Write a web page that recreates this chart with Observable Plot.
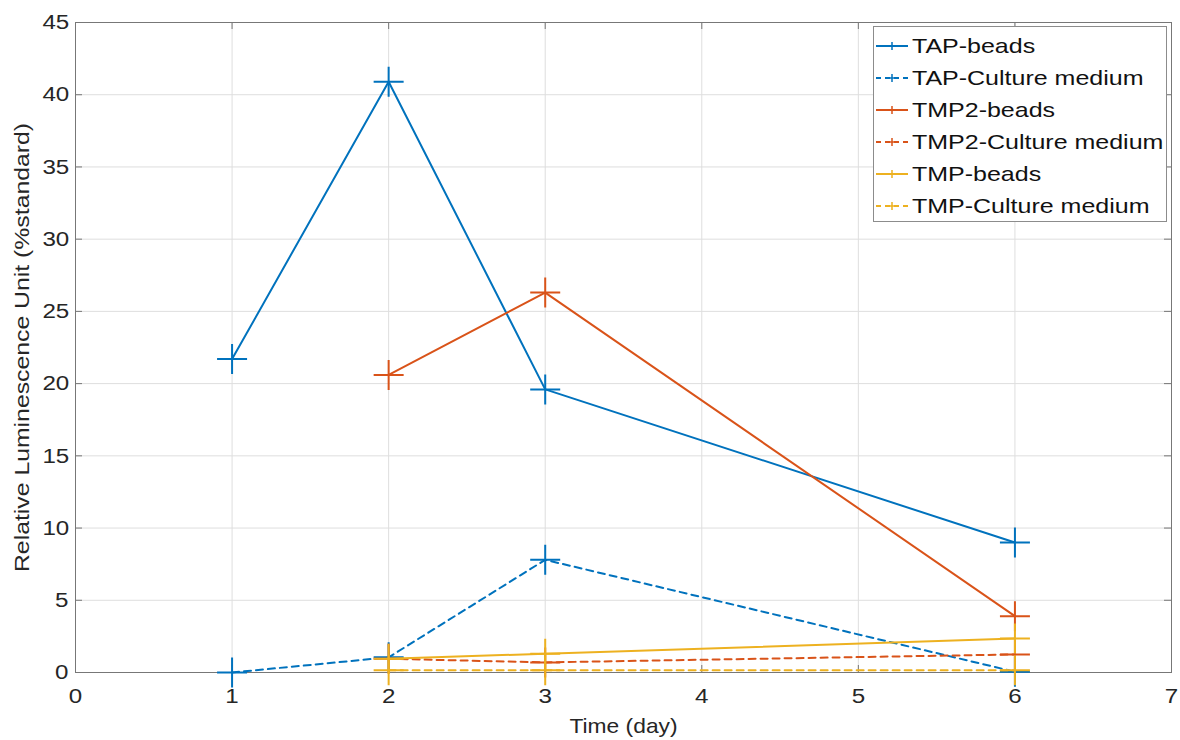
<!DOCTYPE html>
<html><head><meta charset="utf-8">
<script src="https://cdn.jsdelivr.net/npm/d3@7"></script>
<script src="https://cdn.jsdelivr.net/npm/@observablehq/plot@0.6"></script>
<style>
body{margin:0;background:#fff;font-family:"Liberation Sans",Arial,sans-serif;}
#wrap{position:relative;width:1180px;height:740px;}
#legend{position:absolute;left:873px;top:26px;width:294px;height:196px;border:1px solid #8c8c8c;background:#fff;box-sizing:border-box;padding-top:3px;}
.row{height:32px;display:flex;align-items:center;}
.row svg{margin-left:2px;flex:none}
.row span{font-size:21px;color:#111;display:inline-block;transform:scaleX(1.19);transform-origin:left center;margin-left:4px;white-space:nowrap}
</style></head><body><div id="wrap"></div>
<script>
// ---- data ----
const daysTAP = [1, 2, 3, 6];
const daysTMP = [2, 3, 6];
const tapBeads   = [21.7, 40.9, 19.6, 9.0];
const tapMedium  = [0.0, 1.05, 7.8, 0.05];
const tmp2Beads  = [20.6, 26.3, 3.9];
const tmp2Medium = [0.95, 0.7, 1.25];
const tmpBeads   = [0.95, 1.3, 2.35];
const tmpMedium  = [0.15, 0.15, 0.15];
const seriesNames = ["TAP-beads", "TAP-Culture medium", "TMP2-beads", "TMP2-Culture medium", "TMP-beads", "TMP-Culture medium"];
const seriesX = [daysTAP, daysTAP, daysTMP, daysTMP, daysTMP, daysTMP];
const seriesY = [tapBeads, tapMedium, tmp2Beads, tmp2Medium, tmpBeads, tmpMedium];
const xTicks = [0, 1, 2, 3, 4, 5, 6, 7];
const yTicks = [0, 5, 10, 15, 20, 25, 30, 35, 40, 45];
const xLabel = "Time (day)";
const yLabel = "Relative Luminescence Unit (%standard)";

// ---- styles ----
const seriesColors = ["#0072BD", "#0072BD", "#D95319", "#D95319", "#EDB120", "#EDB120"];
const seriesDashed = [false, true, false, true, false, true];

const rows = [];
seriesNames.forEach((name, i) => {
  seriesX[i].forEach((x, j) => rows.push({series: name, idx: i, x, y: seriesY[i][j]}));
});

const plusSym = {
  draw(ctx, size) {
    const r = Math.sqrt(size / Math.PI);
    ctx.moveTo(-r, 0); ctx.lineTo(r, 0);
    ctx.moveTo(0, -r); ctx.lineTo(0, r);
  }
};

const W = 1180, H = 740, mL = 75, mR = 9, mT = 22, mB = 68;
const fw = W - mL - mR, fh = H - mT - mB;

const marks = [
  Plot.gridX(xTicks, {stroke: "#dedede", strokeOpacity: 1}),
  Plot.gridY(yTicks, {stroke: "#dedede", strokeOpacity: 1}),
  Plot.ruleX(xTicks, {stroke: "#777", insetTop: fh - 7}),
  Plot.ruleX(xTicks, {stroke: "#777", insetBottom: fh - 7}),
  Plot.ruleY(yTicks, {stroke: "#777", insetRight: fw - 7}),
  Plot.ruleY(yTicks, {stroke: "#777", insetLeft: fw - 7}),
  Plot.frame({stroke: "#777"}),
  Plot.axisX(xTicks, {tickSize: 0, tickPadding: 16, fontSize: 21, color: "#262626", label: null, tickFormat: d => String(d)}),
  Plot.axisY(yTicks, {tickSize: 0, tickPadding: 8, fontSize: 21, color: "#262626", label: null, tickFormat: d => String(d)}),
  Plot.text([xLabel], {text: d => d, frameAnchor: "bottom", textAnchor: "middle", lineAnchor: "middle", dy: 54, fontSize: 20, fill: "#262626"}),
  Plot.text([yLabel], {text: d => d, frameAnchor: "left", textAnchor: "middle", lineAnchor: "middle", dx: -53, rotate: -90, fontSize: 20, fill: "#262626"})
];
seriesNames.forEach((name, i) => {
  const data = rows.filter(r => r.idx === i);
  marks.push(Plot.line(data, {x: "x", y: "y", stroke: seriesColors[i], strokeWidth: 2,
    strokeDasharray: seriesDashed[i] ? "7,5" : null}));
  marks.push(Plot.dot(data, {x: "x", y: "y", symbol: plusSym, r: 15, stroke: seriesColors[i], fill: "none", strokeWidth: 2}));
});

const chart = Plot.plot({
  width: W, height: H,
  marginLeft: mL, marginRight: mR, marginTop: mT, marginBottom: mB,
  style: {fontFamily: "'Liberation Sans', Arial, sans-serif", background: "#fff"},
  x: {domain: [0, 7]},
  y: {domain: [0, 45]},
  marks
});
const wrap = document.getElementById("wrap");
wrap.appendChild(chart);

// widen glyphs along each text's own direction, about its centre
function stretchEls(els, f) {
  els.forEach(t => {
    const b = t.getBBox();
    const cx = b.x + b.width / 2;
    const prev = t.getAttribute("transform") || "";
    t.setAttribute("transform", `${prev} translate(${cx},0) scale(${f},1) translate(${-cx},0)`.trim());
  });
}
stretchEls(chart.querySelectorAll('g[aria-label="x-axis tick label"] text'), 1.15);
stretchEls(chart.querySelectorAll('g[aria-label="y-axis tick label"] text'), 1.15);
const textGroups = chart.querySelectorAll('g[aria-label="text"]');
if (textGroups[0]) stretchEls(textGroups[0].querySelectorAll("text"), 1.14);
if (textGroups[1]) stretchEls(textGroups[1].querySelectorAll("text"), 1.24);

// legend
const legend = document.createElement("div");
legend.id = "legend";
seriesNames.forEach((name, i) => {
  const row = document.createElement("div");
  row.className = "row";
  const s = d3.create("svg").attr("width", 32).attr("height", 12);
  s.append("line").attr("x1", 0).attr("x2", 32).attr("y1", 6).attr("y2", 6)
    .attr("stroke", seriesColors[i]).attr("stroke-width", 2)
    .attr("stroke-dasharray", seriesDashed[i] ? "5,4" : null);
  s.append("path").attr("d", "M12,6H20M16,2V10").attr("stroke", seriesColors[i]).attr("stroke-width", 1.5);
  row.appendChild(s.node());
  const sp = document.createElement("span");
  sp.textContent = name;
  row.appendChild(sp);
  legend.appendChild(row);
});
wrap.appendChild(legend);
</script></body></html>
